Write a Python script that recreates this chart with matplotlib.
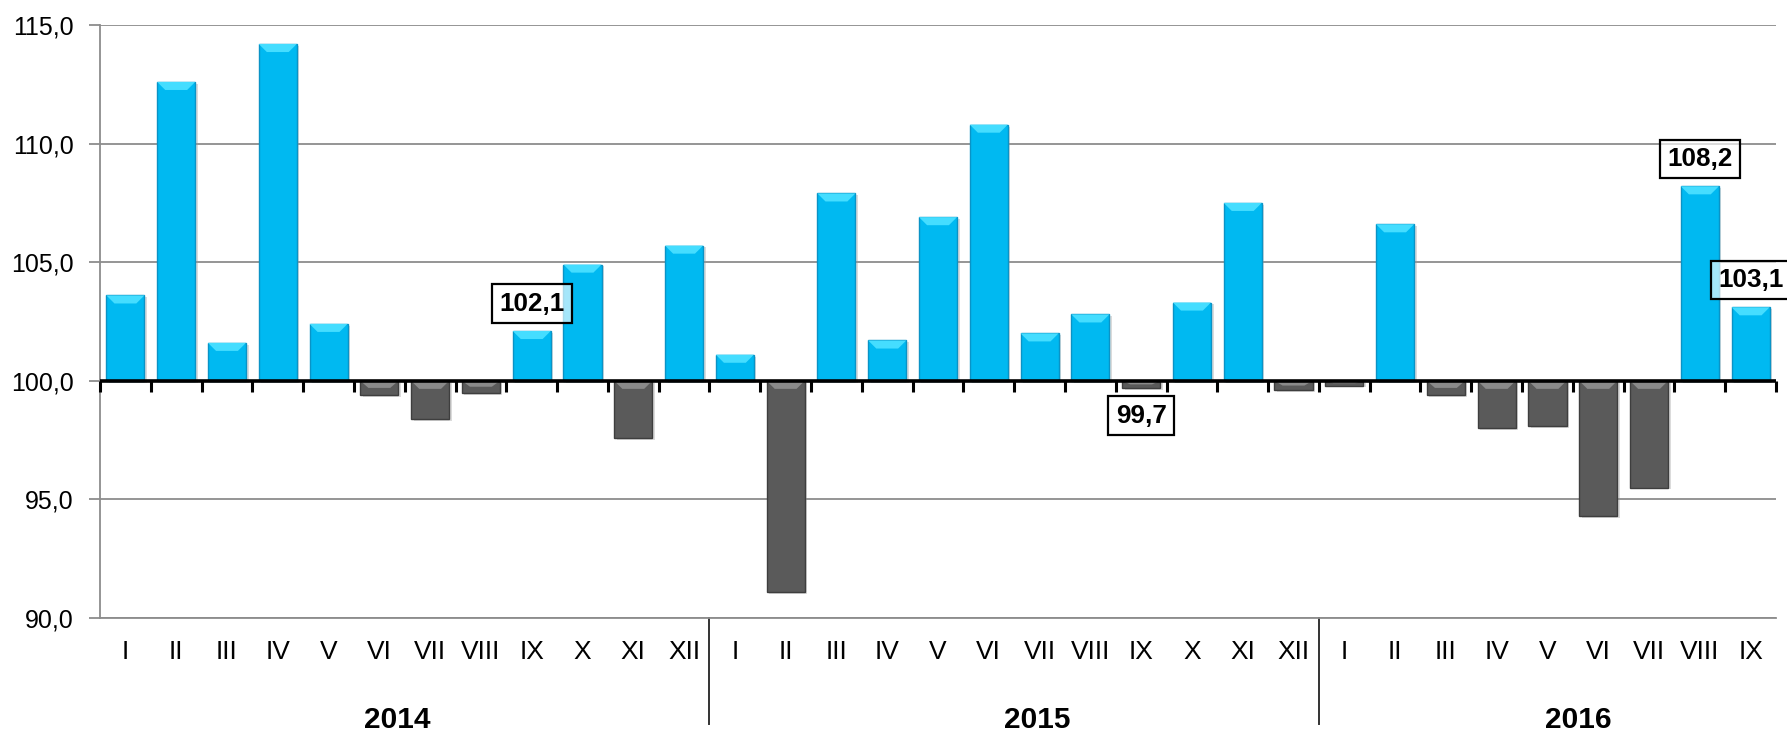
import matplotlib
matplotlib.use("Agg")
import matplotlib.pyplot as plt
from matplotlib.patches import Polygon
import numpy as np

plt.rcParams['font.family'] = ['Liberation Sans', 'DejaVu Sans']

# ---------------- data ----------------
years = ['2014', '2015', '2016']
months_2014 = ['I', 'II', 'III', 'IV', 'V', 'VI', 'VII', 'VIII', 'IX', 'X', 'XI', 'XII']
months_2015 = ['I', 'II', 'III', 'IV', 'V', 'VI', 'VII', 'VIII', 'IX', 'X', 'XI', 'XII']
months_2016 = ['I', 'II', 'III', 'IV', 'V', 'VI', 'VII', 'VIII', 'IX']
values_2014 = [103.6, 112.6, 101.6, 114.2, 102.4, 99.4, 98.4, 99.5, 102.1, 104.9, 97.6, 105.7]
values_2015 = [101.1, 91.1, 107.9, 101.7, 106.9, 110.8, 102.0, 102.8, 99.7, 103.3, 107.5, 99.6]
values_2016 = [99.8, 106.6, 99.4, 98.0, 98.1, 94.3, 95.5, 108.2, 103.1]
# bars carrying a value label: (year, month)
labelled = [('2014', 'IX'), ('2015', 'IX'), ('2016', 'VIII'), ('2016', 'IX')]
base = 100.0
y_ticks = [90, 95, 100, 105, 110, 115]

months_all = months_2014 + months_2015 + months_2016
values_all = values_2014 + values_2015 + values_2016
year_of = ['2014'] * len(months_2014) + ['2015'] * len(months_2015) + ['2016'] * len(months_2016)
x = np.arange(len(values_all))

def fmt(v):
    return f"{v:.1f}".replace('.', ',')

# ---------------- figure ----------------
W, H = 1787, 734
fig = plt.figure(figsize=(W / 100, H / 100), dpi=100)
ax = fig.add_axes([100 / W, 116 / H, 1676 / W, 593 / H])

blue, blue_edge, blue_bevel = '#00B9F1', '#0A93C6', '#45DDFF'
grey, grey_edge, grey_bevel = '#5A5A5A', '#3E3E3E', '#8A8A8A'

bw = 0.75
heights = [v - base for v in values_all]
colors = [blue if h >= 0 else grey for h in heights]
edges = [blue_edge if h >= 0 else grey_edge for h in heights]

# soft shadow behind bars
ax.bar(x + 0.05, heights, bottom=base - 0.08, width=bw, color='#9A9A9A', alpha=0.35,
       linewidth=0, zorder=2)
bars = ax.bar(x, heights, bottom=base, width=bw, color=colors, edgecolor=edges,
              linewidth=1.0, zorder=3)

# bevel on the top face of each bar
dx, dy = 0.16, 0.34
for rect, h in zip(bars, heights):
    x0 = rect.get_x(); x1 = x0 + rect.get_width()
    top = base + h if h >= 0 else base
    d = min(dy, abs(h) * 0.5)
    poly = [(x0, top), (x1, top), (x1 - dx, top - d), (x0 + dx, top - d)]
    fc = blue_bevel if h >= 0 else grey_bevel
    ax.add_patch(Polygon(poly, closed=True, facecolor=fc, edgecolor='none', zorder=4))

# axis ranges and grid
ax.set_xlim(-0.5, len(values_all) - 0.5)
ax.set_ylim(90, 115)
ax.set_yticks(y_ticks)
ax.set_yticklabels([fmt(t) for t in y_ticks], fontsize=18)
ax.yaxis.grid(True, color='#8C8C8C', linewidth=1.3, zorder=0)
ax.set_axisbelow(True)
ax.tick_params(axis='y', length=8, width=1.3, color='#8C8C8C', pad=11)

for s in ['top', 'right']:
    ax.spines[s].set_visible(False)
ax.spines['left'].set_color('#8C8C8C')
ax.spines['left'].set_linewidth(1.3)
ax.spines['bottom'].set_color('#8C8C8C')
ax.spines['bottom'].set_linewidth(1.3)

ax.set_xticks(x)
ax.set_xticklabels(months_all, fontsize=19)
ax.tick_params(axis='x', length=0, pad=16)

# baseline at 100 with category boundary ticks
ax.axhline(base, color='black', linewidth=2.6, zorder=6)
sec = ax.secondary_xaxis((base - 90) / (115 - 90))
sec.set_xticks(np.arange(len(values_all) + 1) - 0.5)
sec.tick_params(axis='x', length=8, width=2.2, color='black', labelbottom=False)
sec.spines['bottom'].set_visible(False)
sec.set_zorder(7)

# value labels
for (yr, mo) in labelled:
    idx = [i for i in range(len(values_all)) if year_of[i] == yr and months_all[i] == mo][0]
    v = values_all[idx]
    off = 1.15 if v >= base else -1.17
    ax.text(idx, v + off, fmt(v), ha='center', va='center', fontsize=18.7,
            fontweight='bold', zorder=8,
            bbox=dict(boxstyle='square,pad=0.28', facecolor=(1, 1, 1, 0.65),
                      edgecolor='black', linewidth=1.6))

# year separators and labels
counts = [len(months_2014), len(months_2015), len(months_2016)]
bounds = np.cumsum(counts)[:-1] - 0.5
trans = ax.get_xaxis_transform()
for b in bounds:
    ax.plot([b, b], [0, -0.178], transform=trans, color='#333333', linewidth=1.4,
            clip_on=False)
year_pos = [5.35, 17.96, 28.6]
for yr, xp in zip(years, year_pos):
    ax.text(xp, -0.1855, yr, transform=trans, ha='center', va='baseline',
            fontsize=21.5, fontweight='bold')

fig.savefig('out.png', dpi=100)
